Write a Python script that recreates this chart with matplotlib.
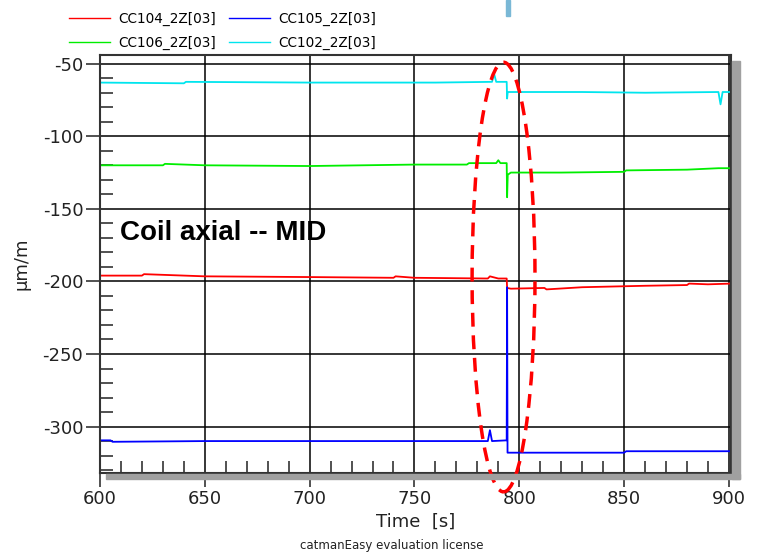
#!/usr/bin/env python3
# -- coding: utf-8 --
import matplotlib
matplotlib.use('Agg')
import matplotlib.pyplot as plt
import matplotlib.patches as patches
from matplotlib.ticker import MultipleLocator

# strain channels, time in s, values in um/m
t_cc104 = [600, 620, 621, 650, 700, 740, 741, 750, 785, 786, 790, 794, 794.2, 796, 812, 813,
           830, 860, 880, 881, 890, 901]
v_cc104 = [-196, -196, -195, -196.5, -197, -197.5, -196.5, -197.5, -198, -196.5, -198, -198,
           -204.5, -205, -204.5, -205.5, -204, -203, -202.5, -201.5, -202, -201.5]

t_cc105 = [600, 605, 606, 650, 700, 750, 785, 786, 787, 794, 794.2, 794.4, 820, 850, 851,
           870, 901]
v_cc105 = [-309.5, -309.5, -310.5, -310, -310, -310, -310, -302.5, -310, -309.5, -204, -318,
           -318, -318, -317, -317, -317]

t_cc106 = [600, 630, 631, 650, 700, 750, 775, 776, 789, 790, 791, 794, 794.2, 794.5, 796,
           820, 850, 851, 880, 895, 901]
v_cc106 = [-120, -120, -119, -120, -120.5, -119.5, -119.5, -118.5, -118.5, -116.5, -118.5,
           -118.5, -142, -126.5, -125, -125, -124.5, -123.5, -123, -122, -122]

t_cc102 = [600, 640, 641, 700, 760, 787, 788, 789, 794, 794.2, 794.5, 830, 860, 895, 896,
           897, 901]
v_cc102 = [-63, -63.5, -62.5, -63, -63, -62.5, -57, -62.5, -62.5, -74, -69.5, -69.5, -70,
           -69.5, -78, -69.5, -69.5]

labels = ['CC104_2Z[03]', 'CC105_2Z[03]', 'CC106_2Z[03]', 'CC102_2Z[03]']
colors = ['#ff0000', '#0000ff', '#00ee00', '#00e5ee']

# dashed ellipse marking the step (centre, width, height in data units)
ell_center = (792.5, -197)
ell_w = 30
ell_h = 296

plt.rcParams['font.family'] = 'DejaVu Sans'

fig = plt.figure(figsize=(7.62, 5.54), dpi=100)
ax = fig.add_axes([100 / 762, 1 - 473 / 554, 631 / 762, 418 / 554])

series = [(t_cc104, v_cc104), (t_cc105, v_cc105), (t_cc106, v_cc106), (t_cc102, v_cc102)]
lines = []
for (t, v), c, lab in zip(series, colors, labels):
    ln, = ax.plot(t, v, color=c, linewidth=1.3, label=lab)
    lines.append(ln)

ax.set_xlim(600, 901)
ax.set_ylim(-332, -44)
ax.xaxis.set_major_locator(MultipleLocator(50))
ax.xaxis.set_minor_locator(MultipleLocator(10))
ax.yaxis.set_major_locator(MultipleLocator(50))
ax.yaxis.set_minor_locator(MultipleLocator(10))
ax.tick_params(which='major', direction='out', length=10, width=1.2, color='#333333',
               labelsize=13, labelcolor='#222222', pad=2)
ax.tick_params(which='minor', direction='in', length=9, width=1.2, color='#333333')
ax.yaxis.set_major_formatter(plt.FuncFormatter(lambda v, p: '%d' % v))
ax.grid(True, which='major', color='black', linewidth=1.1)
for s in ax.spines.values():
    s.set_color('#333333')
    s.set_linewidth(1.5)

ax.set_xlabel('Time  [s]', fontsize=13, color='#222222', labelpad=4)
ax.set_ylabel('µm/m', fontsize=13, color='#222222', labelpad=0)
ax.yaxis.set_label_coords(-0.11, 0.5)

ax.text(120 / 762, 1 - 233 / 554, 'Coil axial -- MID', transform=fig.transFigure,
        fontsize=20, fontweight='bold', family='Liberation Sans', va='center', ha='left')

ell = patches.Ellipse(ell_center, ell_w, ell_h, fill=False, edgecolor='#ff0000',
                      linestyle=(0, (4, 2.5)), linewidth=2.5, clip_on=False, zorder=5)
ax.add_patch(ell)

# gray drop shadow right and bottom of the plot frame
fig.patches.append(patches.Rectangle((732 / 762, 1 - 479 / 554), 8 / 762, 418 / 554,
                                     transform=fig.transFigure, color='#a0a0a0', zorder=0))
fig.patches.append(patches.Rectangle((106 / 762, 1 - 479 / 554), 634 / 762, 5 / 554,
                                     transform=fig.transFigure, color='#a0a0a0', zorder=0))
# cursor bar at top
fig.patches.append(patches.Rectangle((506 / 762, 1 - 16 / 554), 4 / 762, 16 / 554,
                                     transform=fig.transFigure, color='#7ab8d6', zorder=0))

fig.legend([lines[0], lines[2], lines[1], lines[3]],
           [labels[0], labels[2], labels[1], labels[3]],
           ncol=2, loc='upper left', bbox_to_anchor=(60 / 762, 1 - 3 / 554), frameon=False,
           fontsize=9.8, handlelength=3.0, handletextpad=0.6, columnspacing=1.0,
           labelspacing=0.75, borderaxespad=0.25)
for h in fig.legends[0].legend_handles:
    h.set_linewidth(1.0)

fig.text(392 / 762, 1 - 545 / 554, 'catmanEasy evaluation license', fontsize=8.5,
         color='#222222', ha='center', va='center')

fig.savefig('out.png', dpi=100)
